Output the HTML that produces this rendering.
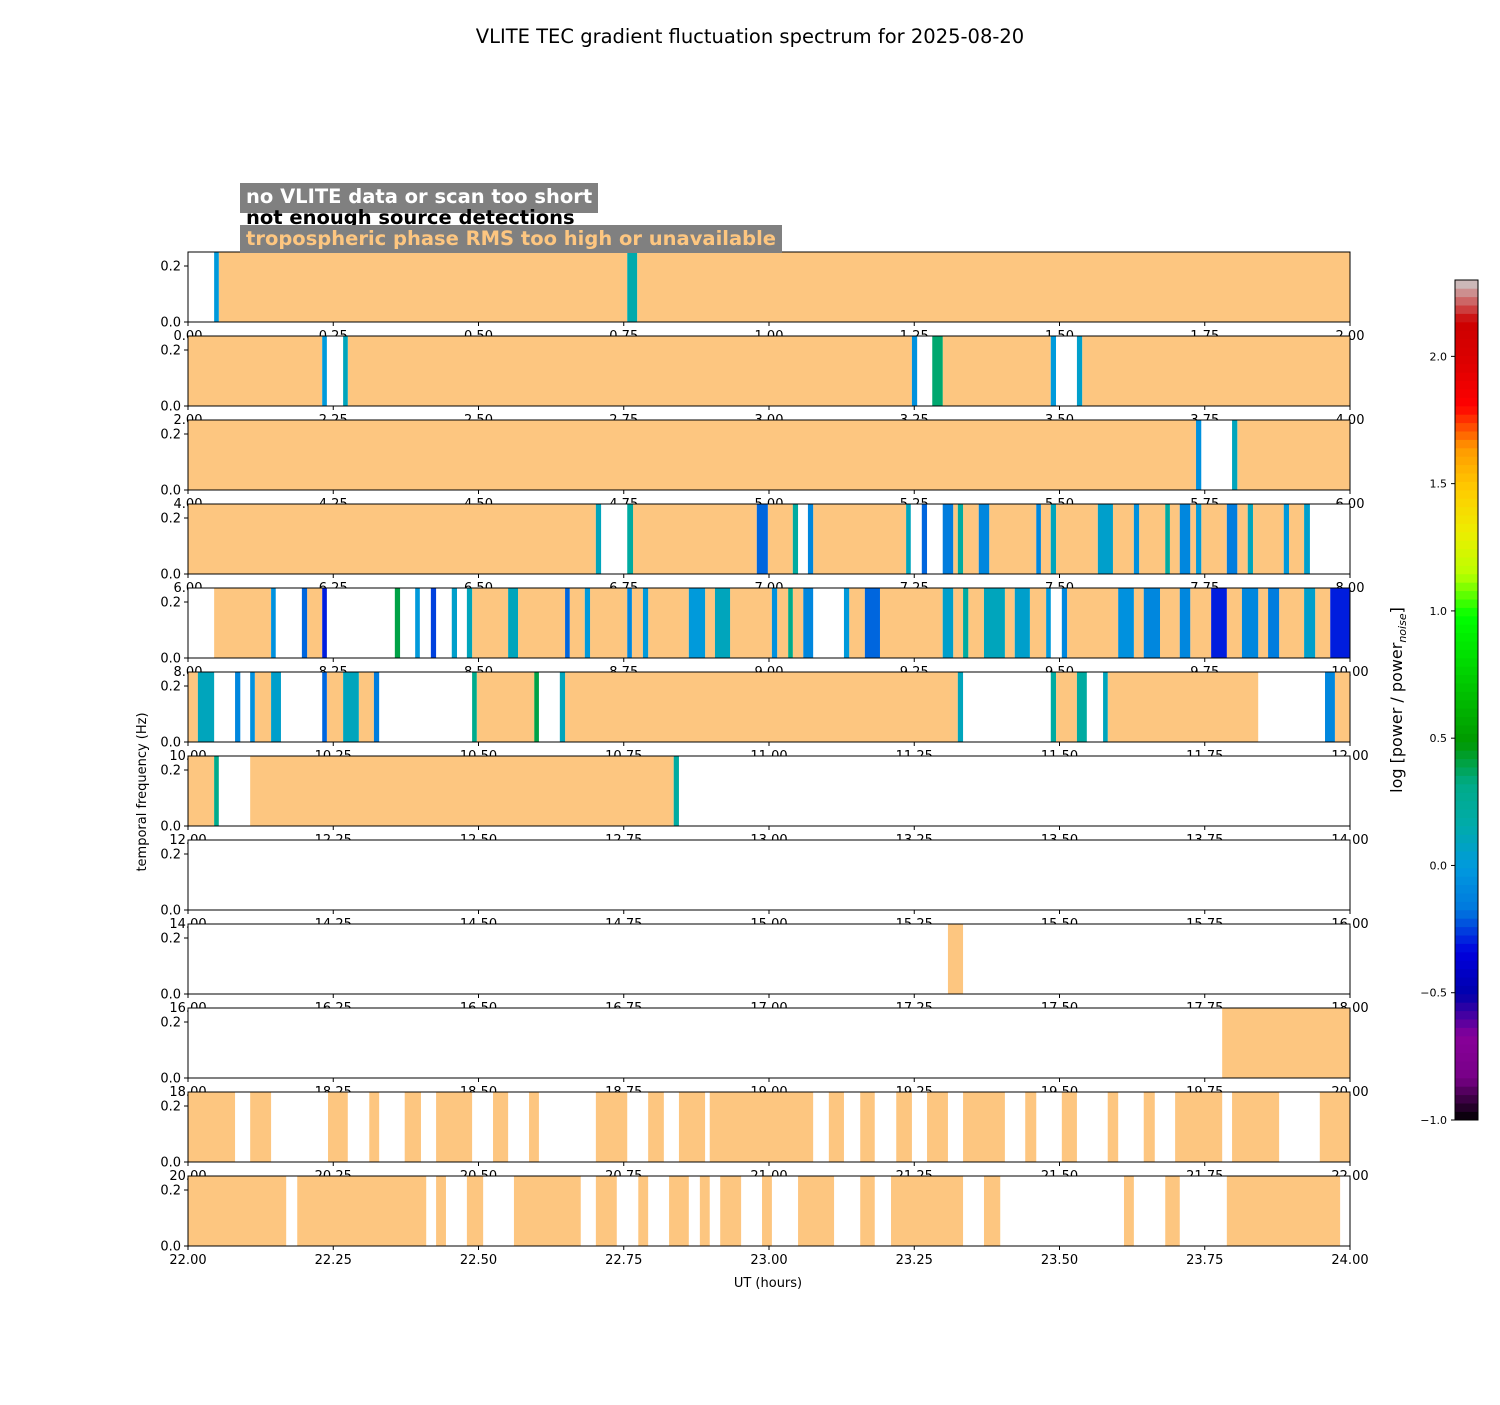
<!DOCTYPE html>
<html><head><meta charset="utf-8">
<style>
html,body{margin:0;padding:0;background:#fff;}
svg text{font-family:"DejaVu Sans","Liberation Sans",sans-serif;}
</style></head>
<body>
<svg id="chart" width="1500" height="1400" viewBox="0 0 1500 1400" xmlns="http://www.w3.org/2000/svg">
<rect width="1500" height="1400" fill="#fff"/>
<text x="750" y="43" font-size="19.5" text-anchor="middle">VLITE TEC gradient fluctuation spectrum for 2025-08-20</text>
<g id="panels"></g>
<g>
<rect x="240" y="183" width="358" height="30" fill="#808080"/>
<text x="246" y="203" font-size="19.5" font-weight="bold" fill="#fff">no VLITE data or scan too short</text>
<text x="246" y="224" font-size="19.5" font-weight="bold" fill="#000">not enough source detections</text>
<rect x="240" y="225" width="542" height="28" fill="#808080"/>
<text x="246" y="245" font-size="19.5" font-weight="bold" fill="#fdc680">tropospheric phase RMS too high or unavailable</text>
</g>
<text x="0" y="0" font-size="13" text-anchor="middle" transform="translate(146,792) rotate(-90)">temporal frequency (Hz)</text>
<text x="768" y="1287" font-size="13" text-anchor="middle">UT (hours)</text>
<g id="cbar"></g>
<text x="0" y="0" font-size="16" text-anchor="middle" transform="translate(1402,700) rotate(-90)">log [power / power<tspan font-size="11" font-style="italic" dy="4">noise</tspan><tspan dy="-4">]</tspan></text>
</svg>
<script>
// orange (tropospheric RMS) intervals per panel, in UT hours
const orange = [
 [[0.053,0.756],[0.773,2.0]],
 [[2.0,2.231],[2.275,3.246],[3.299,3.485],[3.539,4.0]],
 [[4.0,5.735],[5.806,6.0]],
 [[6.0,6.702],[6.766,6.979],[6.998,7.041],[7.076,7.236],[7.317,7.325],[7.334,7.361],[7.379,7.460],[7.468,7.485],[7.494,7.566],[7.592,7.628],[7.637,7.682],[7.690,7.707],[7.725,7.735],[7.744,7.788],[7.806,7.824],[7.833,7.886],[7.895,7.921]],
 [[8.045,8.143],[8.205,8.231],[8.489,8.551],[8.568,8.649],[8.657,8.683],[8.692,8.756],[8.764,8.783],[8.792,8.862],[8.890,8.907],[8.933,9.005],[9.014,9.033],[9.041,9.059],[9.138,9.165],[9.191,9.299],[9.317,9.334],[9.343,9.370],[9.406,9.423],[9.449,9.477],[9.513,9.601],[9.628,9.645],[9.673,9.707],[9.725,9.761],[9.788,9.814],[9.842,9.859],[9.878,9.921],[9.940,9.966]],
 [[10.0,10.017],[10.115,10.143],[10.239,10.267],[10.294,10.320],[10.497,10.596],[10.649,11.325],[11.494,11.530],[11.583,11.842],[11.974,12.0]],
 [[12.0,12.045],[12.107,12.836]],
 [],
 [[17.308,17.334]],
 [[19.780,20.0]],
 [[20.0,20.081],[20.107,20.143],[20.241,20.275],[20.312,20.329],[20.373,20.401],[20.427,20.489],[20.525,20.551],[20.587,20.604],[20.702,20.756],[20.792,20.819],[20.845,20.890],[20.898,21.076],[21.103,21.129],[21.157,21.182],[21.219,21.246],[21.272,21.308],[21.334,21.406],[21.441,21.460],[21.504,21.530],[21.583,21.601],[21.645,21.664],[21.699,21.780],[21.797,21.878],[21.948,22.0]],
 [[22.0,22.169],[22.188,22.410],[22.427,22.444],[22.480,22.508],[22.561,22.676],[22.702,22.738],[22.775,22.792],[22.828,22.862],[22.881,22.898],[22.916,22.952],[22.988,23.005],[23.050,23.112],[23.157,23.182],[23.210,23.334],[23.370,23.398],[23.611,23.628],[23.682,23.707],[23.788,23.983]]
];
// spectral data strips per panel: [start, end, log power]
const strips = [
 [[0.045,0.053,0.0],[0.756,0.773,0.15]],
 [[2.231,2.239,0.0],[2.267,2.275,0.1],[3.246,3.255,-0.05],[3.281,3.299,0.35],[3.485,3.494,0.0],[3.530,3.539,0.05]],
 [[5.735,5.744,-0.05],[5.797,5.806,0.1]],
 [[6.702,6.711,0.1],[6.756,6.766,0.2],[6.979,6.998,-0.2],[7.041,7.050,0.2],[7.067,7.076,-0.1],[7.236,7.244,0.1],[7.263,7.272,-0.2],[7.299,7.317,-0.15],[7.325,7.334,0.2],[7.361,7.379,-0.1],[7.460,7.468,-0.1],[7.485,7.494,0.1],[7.566,7.592,0.05],[7.628,7.637,-0.05],[7.682,7.690,0.2],[7.707,7.725,-0.1],[7.735,7.744,0.0],[7.788,7.806,-0.15],[7.824,7.833,0.1],[7.886,7.895,0.0],[7.921,7.931,0.05]],
 [[8.143,8.151,-0.05],[8.196,8.205,-0.2],[8.231,8.239,-0.3],[8.356,8.365,0.4],[8.391,8.399,0.0],[8.418,8.427,-0.25],[8.454,8.463,0.05],[8.480,8.489,0.1],[8.551,8.568,0.1],[8.649,8.657,-0.2],[8.683,8.692,0.0],[8.756,8.764,-0.1],[8.783,8.792,0.0],[8.862,8.890,0.0],[8.907,8.933,0.1],[9.005,9.014,-0.05],[9.033,9.041,0.3],[9.059,9.076,-0.1],[9.129,9.138,0.0],[9.165,9.191,-0.2],[9.299,9.317,0.05],[9.334,9.343,0.2],[9.370,9.406,0.1],[9.423,9.449,0.05],[9.477,9.485,0.0],[9.504,9.513,-0.1],[9.601,9.628,-0.05],[9.645,9.673,-0.1],[9.707,9.725,-0.1],[9.761,9.788,-0.3],[9.814,9.842,-0.1],[9.859,9.878,-0.15],[9.921,9.940,0.05],[9.966,10.0,-0.3]],
 [[10.017,10.045,0.1],[10.081,10.090,-0.1],[10.107,10.115,-0.05],[10.143,10.160,0.05],[10.231,10.239,-0.2],[10.267,10.294,0.1],[10.320,10.329,-0.15],[10.489,10.497,0.3],[10.596,10.604,0.4],[10.640,10.649,0.1],[11.325,11.334,0.1],[11.485,11.494,0.2],[11.530,11.547,0.2],[11.575,11.583,0.1],[11.957,11.974,-0.1]],
 [[12.045,12.053,0.3],[12.836,12.845,0.2]],
 [],[],[],[],[]
];
const yTicks = [0.0, 0.2];
const yTickLabels = ["0.0","0.2"];
const cbTicks = [-1.0,-0.5,0.0,0.5,1.0,1.5,2.0];
const cbTickLabels = ["\u22121.0","\u22120.5","0.0","0.5","1.0","1.5","2.0"];

const NS="http://www.w3.org/2000/svg";
const X0=188, X1=1350, PH=70, PTOP=252, PSTEP=84, YMAX=0.25;
const VMIN=-1.0, VMAX=2.3;
const stops=[[0,0,0,0],[0.05,.47,0,.53],[0.1,.53,0,.6],[0.15,0,0,.67],[0.2,0,0,.87],[0.25,0,.47,.87],[0.3,0,.6,.87],[0.35,0,.67,.67],[0.4,0,.67,.53],[0.45,0,.6,0],[0.5,0,.73,0],[0.55,0,.87,0],[0.6,0,1,0],[0.65,.73,1,0],[0.7,.93,.93,0],[0.75,1,.8,0],[0.8,1,.6,0],[0.85,1,0,0],[0.9,.87,0,0],[0.95,.8,0,0],[1,.8,.8,.8]];
function cmap(v){let t=(v-VMIN)/(VMAX-VMIN);t=Math.max(0,Math.min(1,t));
 for(let i=1;i<stops.length;i++){if(t<=stops[i][0]){const a=stops[i-1],b=stops[i],f=(t-a[0])/(b[0]-a[0]);
  const c=[1,2,3].map(k=>Math.round(255*(a[k]+(b[k]-a[k])*f)));return `rgb(${c[0]},${c[1]},${c[2]})`;}}return "#ccc";}
function mk(tag,attrs,parent){const e=document.createElementNS(NS,tag);for(const k in attrs)e.setAttribute(k,attrs[k]);parent.appendChild(e);return e;}

const panels=document.getElementById('panels');
for(let p=0;p<12;p++){
 const t0=2*p, top=PTOP+PSTEP*p, bot=top+PH;
 const xs=h=>X0+(h-t0)/2*(X1-X0);
 const ys=v=>bot-v/YMAX*PH;
 const g=mk('g',{},panels);
 
 
 mk('rect',{x:X0,y:top,width:X1-X0,height:PH,fill:'#fff'},g);
 orange[p].forEach(s=>{const r=mk('rect',{x:xs(s[0]),y:top,width:xs(s[1])-xs(s[0]),height:PH,fill:'#fdc680'},g);
  
  });
 strips[p].forEach(s=>{const r=mk('rect',{x:xs(s[0]),y:top,width:xs(s[1])-xs(s[0]),height:PH,fill:cmap(s[2])},g);
  
  });
 mk('rect',{x:X0,y:top,width:X1-X0,height:PH,fill:'none',stroke:'#000','stroke-width':1},g);
 yTicks.forEach((v,i)=>{mk('line',{x1:X0-4,x2:X0,y1:ys(v),y2:ys(v),stroke:'#000'},g);
  const tx=mk('text',{x:X0-7,y:ys(v)+4.5,'font-size':13,'text-anchor':'end'},g);tx.textContent=yTickLabels[i];
  
  });
 for(let k=0;k<=8;k++){const h=t0+k*0.25,x=xs(h);
  mk('line',{x1:x,x2:x,y1:bot,y2:bot+4,stroke:'#000'},g);
  const tx=mk('text',{x:x,y:bot+18,'font-size':13,'text-anchor':'middle'},g);tx.textContent=h.toFixed(2);
  
  }
}
// colorbar
const cb=document.getElementById('cbar');


const CBX=1455,CBW=23,CBT=280,CBB=1120;
const cy=v=>CBB-(v-VMIN)/(VMAX-VMIN)*(CBB-CBT);
const N=100;
for(let i=0;i<N;i++){const v0=VMIN+(VMAX-VMIN)*i/N,v1=VMIN+(VMAX-VMIN)*(i+1)/N;
 mk('rect',{x:CBX,y:cy(v1)-0.3,width:CBW,height:cy(v0)-cy(v1)+0.6,fill:cmap((v0+v1)/2)},cb);}
mk('rect',{x:CBX,y:CBT,width:CBW,height:CBB-CBT,fill:'none',stroke:'#000'},cb);
cbTicks.forEach((v,i)=>{mk('line',{x1:CBX-4,x2:CBX,y1:cy(v),y2:cy(v),stroke:'#000'},cb);
 const tx=mk('text',{x:CBX-8,y:cy(v)+4,'font-size':11,'text-anchor':'end'},cb);tx.textContent=cbTickLabels[i];
 
 });
</script>
</body></html>
